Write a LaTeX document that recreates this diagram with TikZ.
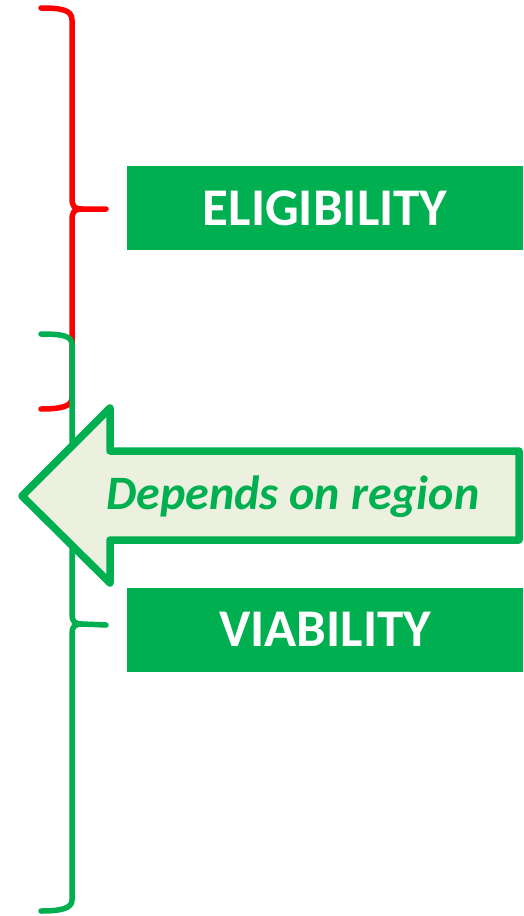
\documentclass[tikz,border=0pt]{standalone}
\usepackage{fontspec}
\setmainfont{Carlito}
\definecolor{okgreen}{HTML}{00B050}
\definecolor{paleolive}{HTML}{EBF1DE}
\tikzset{
  bracered/.style={draw=red, line width=5.5pt, line cap=round, line join=round},
  bracegreen/.style={draw=okgreen, line width=5.5pt, line cap=round, line join=round},
  labelbox/.style={fill=okgreen, text=white, minimum width=396pt, minimum height=84pt,
    inner sep=0pt, font=\fontsize{53}{58}\selectfont\bfseries},
}
\begin{document}
\begin{tikzpicture}[x=1pt, y=-1pt]
        \useasboundingbox (0,0) rectangle (523,916);

        % Llave roja
        \draw[bracered] (41,8) .. controls (62,8) and (72,10) .. (72,20) -- (72,198)
          .. controls (72,206) and (74,209) .. (82,209) -- (106,209);
        \draw[bracered] (82,209) .. controls (74,209) and (72,212) .. (72,220) -- (72,398)
          .. controls (72,406) and (62,409) .. (41,409);

        % Llave verde
        \draw[bracegreen] (41,334) .. controls (62,334) and (72,336) .. (72,344) -- (72,614)
          .. controls (72,621) and (74,624) .. (82,624) -- (106,625);
        \draw[bracegreen] (82,624) .. controls (74,624) and (72,627) .. (72,634) -- (72,900)
          .. controls (72,908) and (62,911) .. (41,911);

        % Cajas
        \node[labelbox] (elig) at (325,208) {ELIGIBILITY};
        \node[labelbox] (viab) at (325,629.5) {VIABILITY};

        % Flecha
        \draw[draw=okgreen, fill=paleolive, line width=7.5pt, line join=round]
          (519,451) -- (110,451) -- (110,408) -- (22,496) -- (110,583)
          -- (110,540) -- (519,540) -- cycle;
        \node[text=okgreen, font=\fontsize{48}{52}\selectfont\bfseries\itshape] (region)
          at (293,497) {Depends on region};
\end{tikzpicture}
\end{document}
